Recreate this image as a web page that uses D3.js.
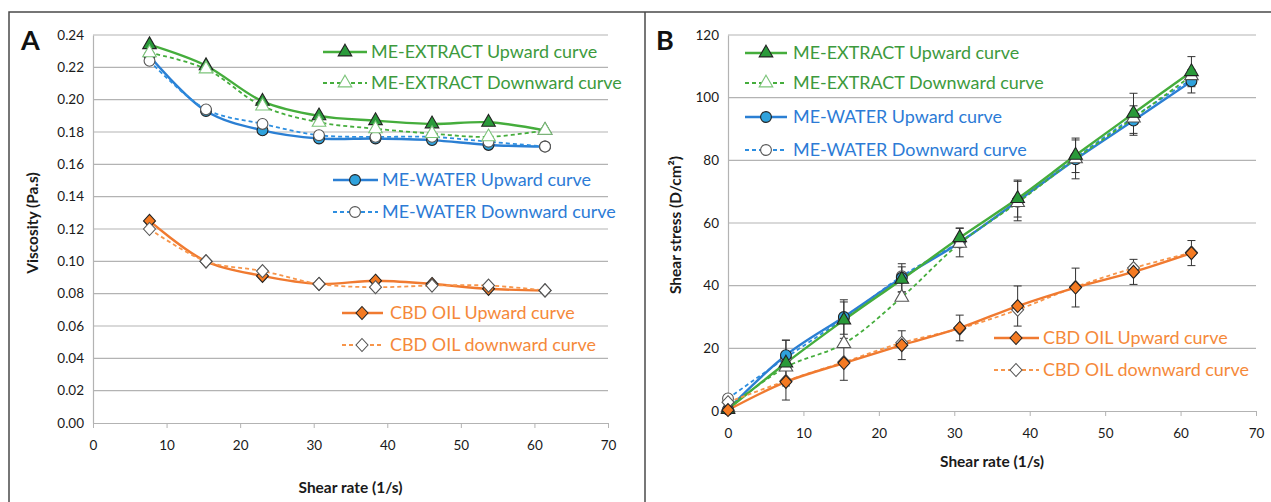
<!DOCTYPE html>
<html><head><meta charset="utf-8">
<script src="https://cdn.jsdelivr.net/npm/d3@7"></script>
<style>body{margin:0;background:#fff}svg{display:block}</style>
</head><body><svg id="c" width="1271" height="502"></svg>
<script>
// ---------- DATA ----------
const shearRateA = [7.68, 15.36, 23.04, 30.72, 38.4, 46.08, 53.76, 61.44];
const extractUpA   = [0.234, 0.221, 0.199, 0.190, 0.187, 0.185, 0.186, 0.181];
const extractDownA = [0.229, 0.219, 0.196, 0.186, 0.182, 0.179, 0.177, 0.181];
const waterUpA     = [0.227, 0.193, 0.181, 0.176, 0.176, 0.175, 0.172, 0.171];
const waterDownA   = [0.224, 0.194, 0.185, 0.178, 0.177, 0.177, 0.174, 0.171];
const cbdUpA       = [0.125, 0.100, 0.091, 0.086, 0.088, 0.086, 0.083, 0.082];
const cbdDownA     = [0.120, 0.100, 0.094, 0.086, 0.084, 0.085, 0.085, 0.082];

const shearRateB = [0, 7.68, 15.36, 23.04, 30.72, 38.4, 46.08, 53.76, 61.44];
const extractUpB   = [0.5, 15.3, 29.0, 42.0, 55.3, 67.8, 81.6, 95.0, 108.3];
const extractDownB = [1.0, 14.0, 21.5, 36.3, 53.5, 66.5, 80.5, 93.5, 107.0];
const waterUpB     = [0.5, 17.8, 30.0, 42.5, 53.8, 67.0, 80.3, 92.7, 105.2];
const waterDownB   = [4.0, 17.0, 29.5, 43.0, 54.0, 66.8, 80.8, 93.8, 105.8];
const cbdUpB       = [0.3, 9.3, 15.3, 21.0, 26.5, 33.5, 39.4, 44.4, 50.4];
const cbdDownB     = [2.8, 9.6, 15.6, 21.8, 26.3, 32.3, 39.6, 45.6, 50.6];
const extractUpErrB = [0, 7.3, 5.8, 4.0, 3.0, 5.9, 5.5, 6.4, 4.8];
const waterUpErrB   = [0, 4.8, 5.5, 4.5, 4.6, 6.3, 6.2, 4.7, 3.7];
const cbdUpErrB     = [0, 5.8, 5.5, 4.6, 4.1, 6.4, 6.2, 4.0, 4.0];

const xTicks = [0, 10, 20, 30, 40, 50, 60, 70];
const yTicksA = [0, 0.02, 0.04, 0.06, 0.08, 0.10, 0.12, 0.14, 0.16, 0.18, 0.20, 0.22, 0.24];
const yTicksB = [0, 20, 40, 60, 80, 100, 120];

const seriesNames = ["ME-EXTRACT Upward curve", "ME-EXTRACT Downward curve",
  "ME-WATER Upward curve", "ME-WATER Downward curve",
  "CBD OIL Upward curve", "CBD OIL downward curve"];

// ---------- STYLE ----------
const FONT = 'Lato, "Open Sans", "DejaVu Sans", sans-serif';
const C = {
  green: "#45ad3c", greenText: "#3d9a3d", greenFill: "#2a9a3a",
  blue: "#2b7fd3", blueDash: "#2d8ee0", blueText: "#2c7bd6", blueFill: "#2fa2dc",
  orange: "#f07a30", orangeDash: "#f7954a", orangeText: "#f5893a", orangeFill: "#f47a22",
  grid: "#b3b3b3", frame: "#4a4a4a", text: "#1a1a1a"
};

const svg = d3.select("#c");
function measure(txt, size, weight) {
  const t = svg.append("text").attr("font-family", FONT).attr("font-size", size)
    .attr("font-weight", weight).text(txt);
  const w = t.node().getComputedTextLength(); t.remove(); return w;
}
function fit(txt, weight, target) { return 20 * target / measure(txt, 20, weight); }
const legendSize = fit("ME-EXTRACT Downward curve", "normal", 251);
const tickSize = 13.5;
const titleSize = fit("Shear rate (1/s)", "bold", 104);

// frame
svg.append("path").attr("d", "M9,502V12H1271").attr("fill", "none")
  .attr("stroke", C.frame).attr("stroke-width", 1.5);
svg.append("line").attr("x1", 645).attr("x2", 645).attr("y1", 12).attr("y2", 502)
  .attr("stroke", C.frame).attr("stroke-width", 1.5);

const diamondType = { draw(ctx, size) { const h = Math.sqrt(size) / 1.5, w = h * 0.92;
  ctx.moveTo(0, -h); ctx.lineTo(w, 0); ctx.lineTo(0, h); ctx.lineTo(-w, 0); ctx.closePath(); } };
const sym = {
  tri: d3.symbol().type(d3.symbolTriangle).size(80),
  circ: d3.symbol().type(d3.symbolCircle).size(92),
  dia: d3.symbol().type(diamondType).size(95)
};

function drawPanel(cfg) {
  const g = svg.append("g");
  const x = d3.scaleLinear().domain([0, 70]).range([cfg.x0, cfg.x1]);
  const y = d3.scaleLinear().domain([0, cfg.ymax]).range([cfg.yBot, cfg.yTop]);

  g.append("g").selectAll("line").data(cfg.yTicks.filter(d => d > 0)).join("line")
    .attr("x1", cfg.x0).attr("x2", cfg.x1).attr("y1", d => y(d)).attr("y2", d => y(d))
    .attr("stroke", C.grid).attr("stroke-width", 1.2);
  const ya = g.append("g").attr("transform", `translate(${cfg.x0},0)`)
    .call(d3.axisLeft(y).tickValues(cfg.yTicks).tickFormat(cfg.fmt).tickSize(0).tickPadding(9));
  ya.select(".domain").attr("stroke", C.grid).attr("stroke-width", 1.2);
  ya.selectAll("text").attr("font-family", FONT).attr("font-size", tickSize).attr("fill", C.text);
  const xa = g.append("g").attr("transform", `translate(0,${cfg.yBot})`)
    .call(d3.axisBottom(x).tickValues(xTicks).tickFormat(d3.format("d")).tickSizeOuter(0).tickSizeInner(5).tickPadding(cfg.xPad));
  xa.select(".domain").attr("stroke", C.grid).attr("stroke-width", 1.2);
  xa.selectAll(".tick line").attr("stroke", C.grid);
  xa.selectAll("text").attr("font-family", FONT).attr("font-size", tickSize).attr("fill", C.text);

  g.append("text").attr("x", (cfg.x0 + cfg.x1) / 2).attr("y", cfg.xTitleY)
    .attr("text-anchor", "middle").attr("font-family", FONT).attr("font-weight", "bold")
    .attr("font-size", titleSize).attr("fill", C.text).text("Shear rate (1/s)");
  g.append("text").attr("transform", `translate(${cfg.yTitleX},${cfg.yTitleY}) rotate(-90)`)
    .attr("text-anchor", "middle").attr("font-family", FONT).attr("font-weight", "bold")
    .attr("font-size", titleSize).attr("fill", C.text).text(cfg.yTitle);
  g.append("text").attr("x", cfg.labelX).attr("y", 50).attr("font-family", FONT)
    .attr("font-weight", "bold").attr("font-size", 27).attr("fill", "#111").text(cfg.label);

  const line = d3.line().x(d => x(d[0])).y(d => y(d[1])).curve(d3.curveCatmullRom.alpha(0.5));
  const pts = s => s.xs.map((v, i) => [v, s.ys[i], s.err ? s.err[i] : 0]);

  cfg.series.forEach(s => {
    g.append("path").attr("d", line(pts(s))).attr("fill", "none")
      .attr("stroke", s.color).attr("stroke-width", s.dash ? 1.8 : 2.4)
      .attr("stroke-dasharray", s.dash ? "4,3" : null);
  });
  cfg.series.forEach(s => {
    if (!s.err) return;
    const eg = g.append("g").attr("stroke", "#333").attr("stroke-width", 1);
    pts(s).filter(p => p[2] > 0).forEach(p => {
      const cx = x(p[0]);
      eg.append("line").attr("x1", cx).attr("x2", cx).attr("y1", y(p[1] - p[2])).attr("y2", y(p[1] + p[2]));
      eg.append("line").attr("x1", cx - 4).attr("x2", cx + 4).attr("y1", y(p[1] - p[2])).attr("y2", y(p[1] - p[2]));
      eg.append("line").attr("x1", cx - 4).attr("x2", cx + 4).attr("y1", y(p[1] + p[2])).attr("y2", y(p[1] + p[2]));
    });
  });
  cfg.series.forEach(s => {
    g.append("g").selectAll("path").data(pts(s)).join("path")
      .attr("transform", d => `translate(${x(d[0])},${y(d[1])})`)
      .attr("d", sym[s.marker]).attr("fill", s.fill).attr("stroke", s.mstroke).attr("stroke-width", 1.1);
  });

  cfg.legend.forEach(L => {
    const s = cfg.series.find(q => q.name === L.name);
    const lg = g.append("g");
    lg.append("line").attr("x1", L.x1).attr("x2", L.x2).attr("y1", L.y).attr("y2", L.y)
      .attr("stroke", s.color).attr("stroke-width", s.dash ? 1.8 : 2.4)
      .attr("stroke-dasharray", s.dash ? "4,3" : null);
    lg.append("path").attr("transform", `translate(${L.mx},${L.y})`).attr("d", sym[s.marker])
      .attr("fill", s.fill).attr("stroke", L.mstroke || s.mstroke).attr("stroke-width", 1.1);
    lg.append("text").attr("x", L.tx).attr("y", L.y).attr("dy", "0.35em")
      .attr("font-family", FONT).attr("font-size", legendSize).attr("fill", s.textColor).text(s.name);
  });
}

function mkSeries(xs, vals, errs, panel) {
  return [
    {name: seriesNames[0], xs, ys: vals[0], err: errs ? errs[0] : null, color: C.green, dash: false, marker: "tri", fill: C.greenFill, mstroke: "#222", textColor: C.greenText},
    {name: seriesNames[1], xs, ys: vals[1], color: C.green, dash: true, marker: "tri", fill: "#fff", mstroke: panel === "A" ? "#7cc47a" : "#555", textColor: C.greenText},
    {name: seriesNames[2], xs, ys: vals[2], err: errs ? errs[1] : null, color: C.blue, dash: false, marker: "circ", fill: C.blueFill, mstroke: "#222", textColor: C.blueText},
    {name: seriesNames[3], xs, ys: vals[3], color: C.blueDash, dash: true, marker: "circ", fill: "#fff", mstroke: "#555", textColor: C.blueText},
    {name: seriesNames[4], xs, ys: vals[4], err: errs ? errs[2] : null, color: C.orange, dash: false, marker: "dia", fill: C.orangeFill, mstroke: "#222", textColor: C.orangeText},
    {name: seriesNames[5], xs, ys: vals[5], color: C.orangeDash, dash: true, marker: "dia", fill: "#fff", mstroke: "#555", textColor: C.orangeText}
  ];
}

const serA = mkSeries(shearRateA, [extractUpA, extractDownA, waterUpA, waterDownA, cbdUpA, cbdDownA], null, "A");
drawPanel({
  x0: 93, x1: 608, yTop: 35, yBot: 423, ymax: 0.24, yTicks: yTicksA, fmt: d3.format(".2f"), xPad: 12,
  xTitleY: 493, yTitle: "Viscosity (Pa.s)", yTitleX: 38, yTitleY: 223, label: "A", labelX: 21,
  series: [serA[4], serA[5], serA[2], serA[3], serA[0], serA[1]],
  legend: [
    {name: seriesNames[0], x1: 323, x2: 367, mx: 345, tx: 371, y: 52},
    {name: seriesNames[1], x1: 323, x2: 367, mx: 345, tx: 371, y: 83},
    {name: seriesNames[2], x1: 333, x2: 378, mx: 355, tx: 382, y: 180},
    {name: seriesNames[3], x1: 333, x2: 378, mx: 355, tx: 382, y: 212},
    {name: seriesNames[4], x1: 342, x2: 383, mx: 362, tx: 390, y: 313},
    {name: seriesNames[5], x1: 342, x2: 383, mx: 362, tx: 390, y: 345}
  ]
});

const serB = mkSeries(shearRateB, [extractUpB, extractDownB, waterUpB, waterDownB, cbdUpB, cbdDownB],
  [extractUpErrB, waterUpErrB, cbdUpErrB], "B");
drawPanel({
  x0: 728, x1: 1256, yTop: 35, yBot: 411, ymax: 120, yTicks: yTicksB, fmt: d3.format("d"), xPad: 12,
  xTitleY: 467, yTitle: "Shear stress (D/cm²)", yTitleX: 681, yTitleY: 225, label: "B", labelX: 656,
  series: [serB[3], serB[2], serB[1], serB[0], serB[5], serB[4]],
  legend: [
    {name: seriesNames[0], x1: 745, x2: 787, mx: 766, tx: 793, y: 53},
    {name: seriesNames[1], x1: 745, x2: 787, mx: 766, tx: 793, y: 83, mstroke: "#7cc47a"},
    {name: seriesNames[2], x1: 745, x2: 787, mx: 766, tx: 793, y: 117},
    {name: seriesNames[3], x1: 745, x2: 787, mx: 766, tx: 793, y: 150},
    {name: seriesNames[4], x1: 994, x2: 1039, mx: 1016, tx: 1043, y: 338},
    {name: seriesNames[5], x1: 994, x2: 1039, mx: 1016, tx: 1043, y: 370}
  ]
});
</script></body></html>
